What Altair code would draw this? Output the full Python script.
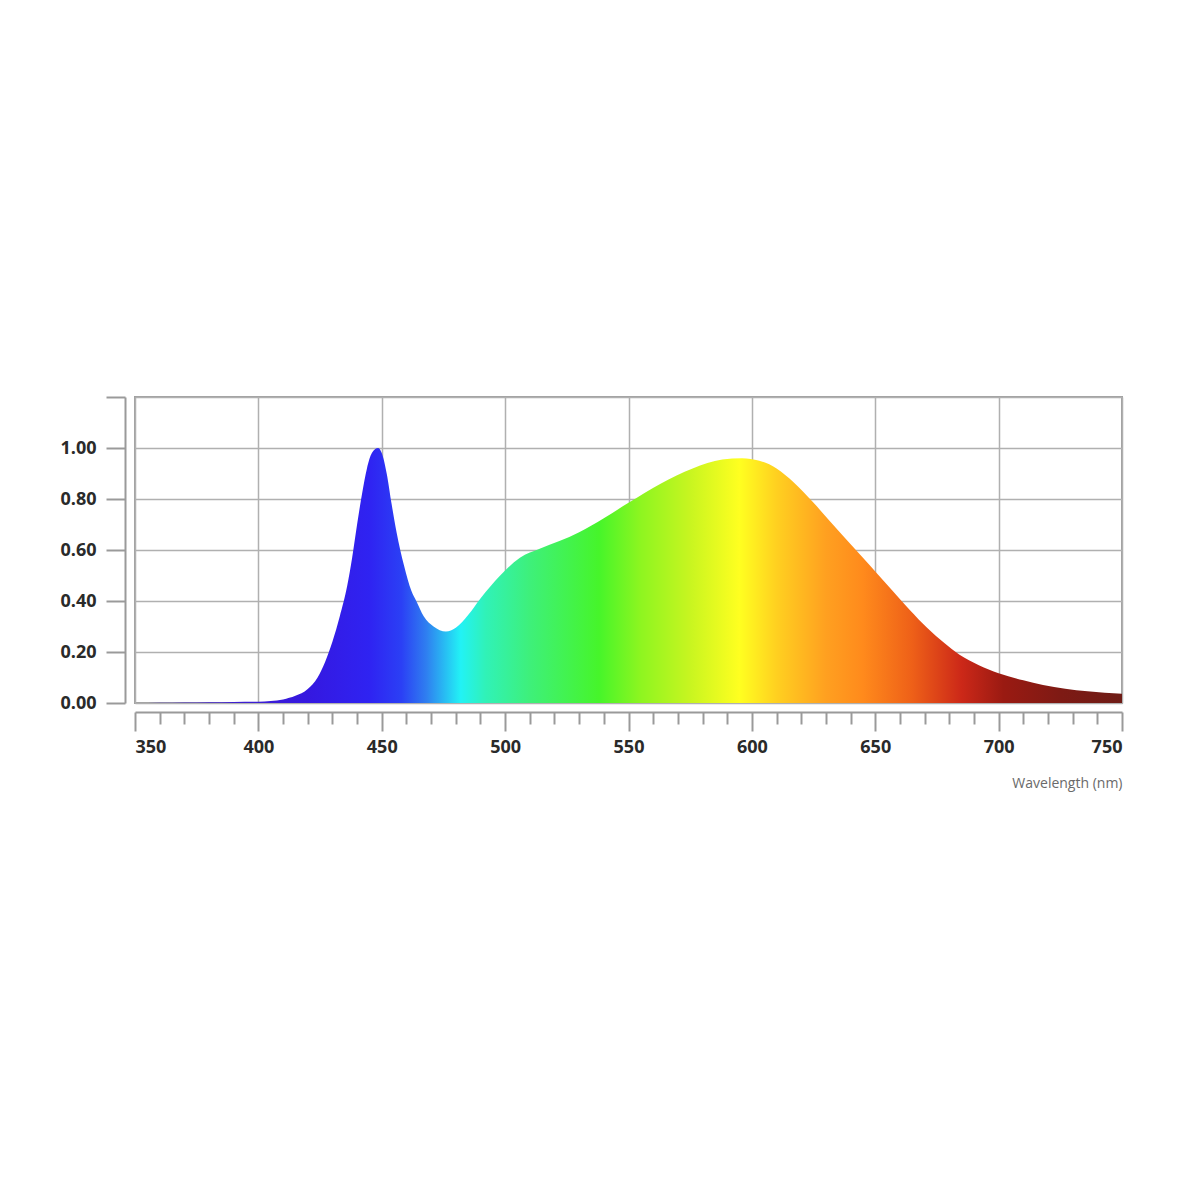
import altair as alt
import pandas as pd

wavelength = [350, 360, 370, 380, 390, 400, 405, 410, 415, 420, 424, 427, 430, 433,
              436, 438, 440, 442, 444, 446, 448.5, 450, 452, 454, 456, 459, 462, 464,
              467, 471, 476, 480, 485, 490, 498, 506, 514, 522, 530, 540, 550, 563,
              576, 588, 596, 603, 610, 617, 625, 631, 637, 644, 651, 657, 664, 671,
              678, 684, 692, 700, 710, 718, 727, 736, 750]
intensity = [0.0, 0.001, 0.002, 0.003, 0.004, 0.005, 0.008, 0.014, 0.028, 0.055, 0.10,
             0.16, 0.24, 0.34, 0.46, 0.57, 0.70, 0.82, 0.92, 0.98, 1.0, 0.98, 0.90,
             0.78, 0.67, 0.54, 0.44, 0.40, 0.34, 0.30, 0.28, 0.295, 0.345, 0.41, 0.50,
             0.57, 0.605, 0.635, 0.67, 0.725, 0.785, 0.86, 0.92, 0.955, 0.96, 0.95,
             0.92, 0.865, 0.785, 0.72, 0.655, 0.58, 0.505, 0.44, 0.365, 0.295, 0.235,
             0.19, 0.148, 0.117, 0.089, 0.071, 0.056, 0.046, 0.036]

x_ticks = list(range(350, 751, 10))
y_ticks = [0.0, 0.2, 0.4, 0.6, 0.8, 1.0, 1.2]

grad_wavelengths = [350, 420, 445, 458, 468, 482, 492, 510, 538, 555, 575, 595, 610,
                    630, 645, 665, 685, 702, 725, 750]
grad_colors = ["#4a2ab8", "#3518e0", "#2f23f2", "#2b40f5", "#2f7ef0", "#22f2f5",
               "#30f2b8", "#3ef07a", "#46f52a", "#8ef520", "#c8f520", "#ffff20",
               "#ffd020", "#ffa020", "#ff8a1c", "#ee6018", "#cc2818", "#9a1a12",
               "#7e1a14", "#6e1c16"]

df = pd.DataFrame({"wavelength": wavelength, "intensity": intensity})

stops = [alt.GradientStop(color=c, offset=(w - 350) / 400)
         for w, c in zip(grad_wavelengths, grad_colors)]

major = "datum.value % 50 === 0"

chart = alt.Chart(df).mark_area(
    interpolate="monotone",
    color=alt.Gradient(gradient="linear", stops=stops, x1=0, x2=1, y1=0, y2=0),
).encode(
    x=alt.X("wavelength:Q",
            scale=alt.Scale(domain=[350, 750], nice=False, zero=False),
            axis=alt.Axis(values=x_ticks, offset=9,
                          labelExpr=major + " ? datum.label : ''",
                          tickSize={"condition": {"test": major, "value": 19}, "value": 12},
                          gridOpacity={"condition": {"test": major, "value": 1}, "value": 0},
                          title="Wavelength (nm)", titleAnchor="end",
                          titleFont="Open Sans", titleFontWeight="normal",
                          titleFontSize=14, titleColor="#6a6a6a", titlePadding=20,
                          labelPadding=7)),
    y=alt.Y("intensity:Q",
            scale=alt.Scale(domain=[0, 1.2], nice=False),
            axis=alt.Axis(values=y_ticks, offset=10, format=".2f", title=None,
                          labelExpr="datum.value > 1.1 ? '' : datum.label",
                          tickSize=19, labelPadding=10)),
).properties(
    width=987, height=306,
    autosize=alt.AutoSizeParams(type="none"),
    padding={"left": 127, "top": 389, "right": 70, "bottom": 120},
).configure_view(
    stroke="#a0a0a0", strokeWidth=2,
).configure_axis(
    domainColor="#9a9a9a", domainWidth=2,
    tickColor="#9a9a9a", tickWidth=2,
    gridColor="#b0b0b0", gridWidth=1.5,
    labelFont="Open Sans", labelFontWeight="bold", labelFontSize=18,
    labelColor="#2a2a2a",
)

chart.save("out.html", embed_options={"renderer": "svg", "actions": False})
